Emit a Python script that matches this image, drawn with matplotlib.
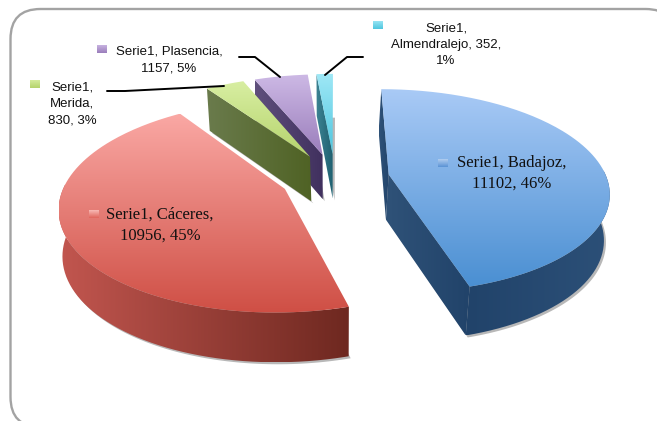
import numpy as np
import matplotlib
matplotlib.use('Agg')
import matplotlib.pyplot as plt
from matplotlib.patches import FancyBboxPatch, PathPatch, Polygon
from matplotlib.path import Path
from matplotlib.colors import LinearSegmentedColormap

# datos del grafico
ciudades = ['Badajoz', 'Cáceres', 'Merida', 'Plasencia', 'Almendralejo']
valores = [11102, 10956, 830, 1157, 352]
porcentajes = [46, 45, 3, 5, 1]
serie = 'Serie1'

# colores: cara superior (arriba, abajo), pared (izq, der)
tops = [('#A9CAF6', '#4A8FD2'), ('#FAA8A4', '#CF4F45'), ('#D8EEA2', '#B5D36C'),
        ('#CDB9E5', '#9A7DBB'), ('#A0E8F6', '#4EC6DF')]
walls = [('#21436A', '#2C5078'), ('#C2564F', '#6E2820'), ('#6A7B4C', '#4F6224'),
         ('#5F4F7C', '#40305E'), ('#3D8494', '#1F6070')]
radial = [('#2F5278', '#21436A'), ('#6E2820', '#6E2820'), ('#6A7B4C', '#4F6224'),
          ('#5F4F7C', '#40305E'), ('#3D8494', '#1F6070')]
marker_cols = [('#BCD4F2', '#5A93D5'), ('#FBC4C0', '#E0655C'), ('#D8EEA2', '#B5D36C'),
               ('#CDB9E5', '#9A7DBB'), ('#A0E8F6', '#4EC6DF')]

# parametros de la proyeccion (pixeles)
CX, CY = 335, 178
RX, RY = 218, 100
K = 0.16
EXPLODE = 0.25
DEPTH = 49
CONV = 0.014  # las verticales convergen hacia abajo
desvio = [-2, 0, 1, 0, 0]
caras = [[0, -1], [], [0], [0], [0]]  # paredes radiales visibles


def proj(u, v):
    s = 1 / (1 + K * v)
    return CX + RX * u * s, CY - RY * v * s, s


def depth(s):
    return DEPTH * (0.5 + 0.5 * s / 1.18)


def base_x(x, i):
    return x - CONV * (x - CX) + desvio[i]


def gradient(ax, pts, c0, c1, vertical=True, zorder=2):
    pts = np.asarray(pts)
    cmap = LinearSegmentedColormap.from_list('g', [c0, c1])
    g = np.linspace(0, 1, 256)
    g = g[:, None] if vertical else g[None, :]
    box = (pts[:, 0].min(), pts[:, 0].max(), pts[:, 1].max(), pts[:, 1].min())
    im = ax.imshow(g, cmap=cmap, extent=box, aspect='auto', zorder=zorder, interpolation='bilinear')
    path = Path(np.vstack([pts, pts[0]]))
    im.set_clip_path(PathPatch(path, transform=ax.transData))


fig = plt.figure(figsize=(6.57, 4.21), dpi=100)
ax = fig.add_axes([0, 0, 1, 1])

frame = FancyBboxPatch((10.5, 9), 665, 418, boxstyle='round,pad=0,rounding_size=30',
                       fc='white', ec='#A3A3A3', lw=1.7, zorder=1)
ax.add_patch(frame)

total = sum(valores)
angs = 90 - np.cumsum([0] + [v / total * 360 for v in valores])
orden = [4, 3, 2, 0, 1]  # de atras hacia delante
for n, i in enumerate(orden):
    a0, a1 = angs[i], angs[i + 1]
    b = np.radians((a0 + a1) / 2)
    ou, ov = EXPLODE * np.cos(b), EXPLODE * np.sin(b)
    t = np.radians(np.linspace(a0, a1, 160))
    x, y, s = proj(ou + np.cos(t), ov + np.sin(t))
    xc, yc, sc = proj(ou, ov)
    xb, xcb = base_x(x, i), base_x(xc, i)
    d = depth(s)
    dc = depth(sc)
    z = 2 + n

    # sombra: la base corrida
    sombra = np.column_stack([np.r_[xcb, xb] + 2, np.r_[yc + dc, y + d] + 2])
    ax.add_patch(Polygon(sombra, fc='#B8B8B8', ec='none', zorder=1.5))

    # paredes radiales
    for e in caras[i]:
        quad = [(x[e], y[e]), (xc, yc), (xcb, yc + dc), (xb[e], y[e] + d[e])]
        c0, c1 = radial[i]
        gradient(ax, quad, c0, c1, vertical=False, zorder=z + 0.1)

    # pared exterior, solo la parte de delante
    delante = np.sin(t) < 0.05
    if delante.sum() > 1:
        xf, yf, df, xbf = x[delante], y[delante], d[delante], xb[delante]
        wall = np.column_stack([np.r_[xf, xbf[::-1]], np.r_[yf, (yf + df)[::-1]]])
        gradient(ax, wall, walls[i][0], walls[i][1], vertical=False, zorder=z + 0.2)

    # cara superior
    top = np.column_stack([np.r_[xc, x], np.r_[yc, y]])
    gradient(ax, top, tops[i][0], tops[i][1], zorder=z + 0.3)

# lineas guia
guias = [[(107, 91), (125, 91), (224, 86)], [(239, 57), (255, 57), (280, 77)], [(363, 57), (347, 57), (325, 75)]]
for g in guias:
    ax.plot(*zip(*g), color='black', lw=1.4, zorder=10, solid_capstyle='round')

# etiquetas
sans = 'Liberation Sans'
serif = 'Liberation Serif'
etiquetas = [
    (f'{serie}, {ciudades[0]},\n{valores[0]}, {porcentajes[0]}%', 512, 173, serif, 12),
    (f'{serie}, {ciudades[1]},\n{valores[1]}, {porcentajes[1]}%', 160, 225, serif, 12),
    (f'{serie},\n{ciudades[2]},\n{valores[2]}, {porcentajes[2]}%', 72, 104, sans, 9.5),
    (f'{serie}, {ciudades[3]},\n{valores[3]}, {porcentajes[3]}%', 169, 60, sans, 9.5),
    (f'{serie},\n{ciudades[4]}, {valores[4]},\n{porcentajes[4]}%', 446, 45, sans, 9.5),
]
marcas = [(443, 163), (94, 214), (35, 84), (102, 49), (378, 25)]
for k, (txt, tx, ty, fam, sz) in enumerate(etiquetas):
    ax.text(tx, ty, txt, ha='center', va='center', family=fam, fontsize=sz, color='#111111',
            linespacing=1.4 if fam == serif else 1.5, zorder=11)
    mx, my = marcas[k]
    cuadro = [(mx - 5, my - 4.5), (mx + 5, my - 4.5), (mx + 5, my + 4.5), (mx - 5, my + 4.5)]
    gradient(ax, cuadro, marker_cols[k][0], marker_cols[k][1], zorder=11)

ax.set_xlim(0, 657)
ax.set_ylim(421, 0)
ax.axis('off')
fig.savefig('out.png', dpi=100)
